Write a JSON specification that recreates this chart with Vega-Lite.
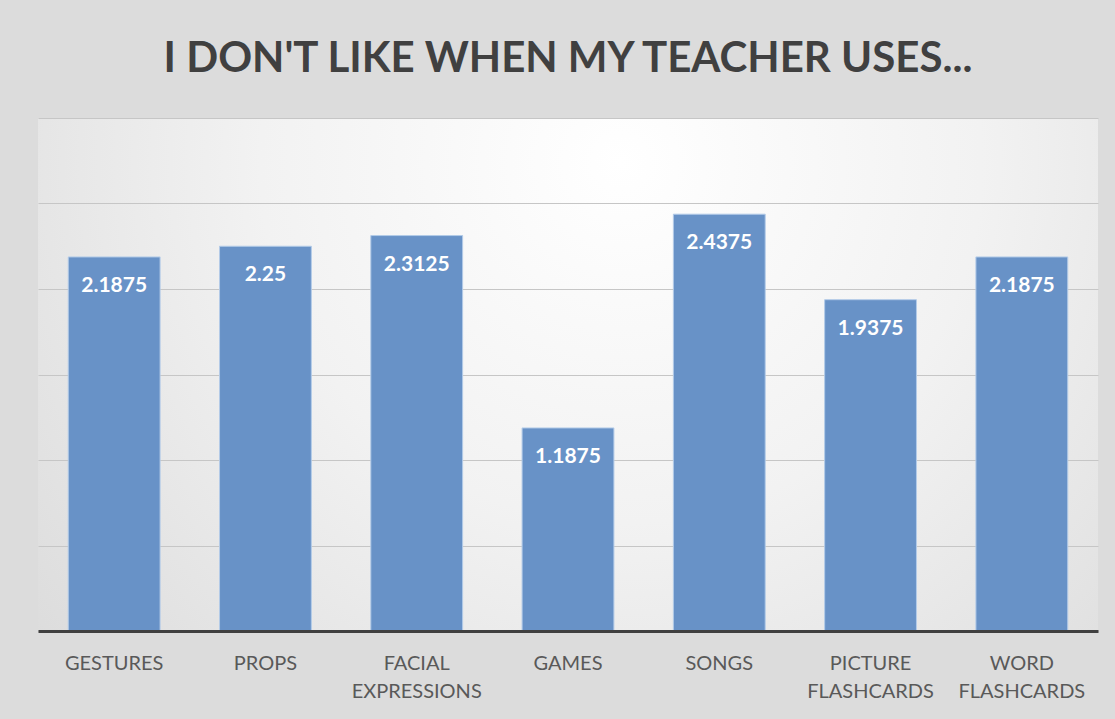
{
  "$schema": "https://vega.github.io/schema/vega-lite/v6.json",
  "width": 1060,
  "height": 513,
  "autosize": {"type": "none"},
  "padding": {"left": 38, "top": 118, "right": 17, "bottom": 88},
  "background": "#dcdcdc",
  "title": {
    "text": "I DON'T LIKE WHEN MY TEACHER USES...",
    "anchor": "middle",
    "frame": "group",
    "font": "Lato",
    "fontSize": 42,
    "fontWeight": "bold",
    "color": "#404040",
    "baseline": "alphabetic",
    "offset": 4
  },
  "data": {
    "values": [
      {"item": "GESTURES", "score": 2.1875},
      {"item": "PROPS", "score": 2.25},
      {"item": "FACIAL EXPRESSIONS", "score": 2.3125},
      {"item": "GAMES", "score": 1.1875},
      {"item": "SONGS", "score": 2.4375},
      {"item": "PICTURE FLASHCARDS", "score": 1.9375},
      {"item": "WORD FLASHCARDS", "score": 2.1875}
    ]
  },
  "encoding": {
    "x": {
      "field": "item",
      "type": "nominal",
      "sort": null,
      "scale": {"paddingInner": 0.393, "paddingOuter": 0.2},
      "axis": {
        "title": null,
        "labelAngle": 0,
        "labelFont": "Lato",
        "labelFontSize": 20,
        "labelColor": "#595959",
        "labelLineHeight": 28,
        "labelBaseline": "top",
        "labelPadding": 22,
        "labelExpr": "split(datum.label, ' ')",
        "ticks": false,
        "domainColor": "#404040",
        "domainWidth": 3,
        "zindex": 2
      }
    },
    "y": {
      "field": "score",
      "type": "quantitative",
      "scale": {"domain": [0, 3]},
      "axis": {
        "title": null,
        "labels": false,
        "ticks": false,
        "domain": false,
        "values": [0, 0.5, 1, 1.5, 2, 2.5, 3],
        "gridColor": "#c6c6c6",
        "gridWidth": 1
      }
    }
  },
  "layer": [
    {
      "mark": {"type": "bar", "fill": "#6892c7", "stroke": "#b3cbe8", "strokeWidth": 1}
    },
    {
      "mark": {
        "type": "text",
        "color": "white",
        "font": "Lato",
        "fontSize": 21,
        "fontWeight": "bold",
        "baseline": "top",
        "dy": 18
      },
      "encoding": {"text": {"field": "score", "type": "quantitative"}}
    }
  ],
  "config": {
    "view": {
      "stroke": null,
      "fill": {
        "gradient": "radial",
        "x1": 0.55, "y1": 0.3, "r1": 0,
        "x2": 0.55, "y2": 0.3, "r2": 0.85,
        "stops": [
          {"offset": 0, "color": "#ffffff"},
          {"offset": 0.4, "color": "#f2f2f2"},
          {"offset": 1, "color": "#d4d4d4"}
        ]
      }
    }
  }
}
